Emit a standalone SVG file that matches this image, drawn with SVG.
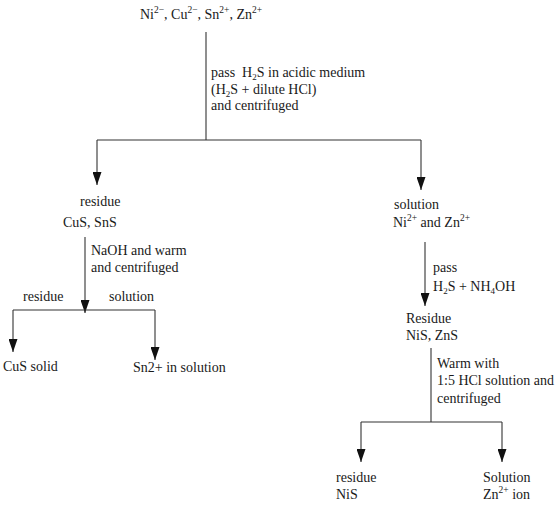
<svg xmlns="http://www.w3.org/2000/svg" width="560" height="509" viewBox="0 0 560 509">
<defs>
<marker id="arr" markerUnits="userSpaceOnUse" markerWidth="14" markerHeight="9" refX="13" refY="4.5" orient="auto">
<path d="M0,0 L13,4.5 L0,9 z" fill="#111"/>
</marker>
<style>
text{font-family:"Liberation Serif","Times New Roman",serif;font-size:14px;fill:#1a1a1a}
.sup{font-size:9.5px}
.sub{font-size:9px}
.ln{stroke:#333;stroke-width:1.1;fill:none}
.ar{stroke:#333;stroke-width:1.1;fill:none;marker-end:url(#arr)}
</style>
</defs>
<rect width="560" height="509" fill="#fff"/>
<g id="connectors">
<line class="ln" x1="206" y1="32" x2="206" y2="140"/>
<line class="ln" x1="97" y1="140" x2="421" y2="140"/>
<line class="ar" x1="97" y1="140" x2="97" y2="185"/>
<line class="ar" x1="421" y1="140" x2="421" y2="190"/>
<line class="ar" x1="85" y1="237" x2="85" y2="313"/>
<line class="ln" x1="13" y1="310" x2="155" y2="310"/>
<line class="ar" x1="13" y1="310" x2="13" y2="352"/>
<line class="ar" x1="155" y1="310" x2="155" y2="360"/>
<line class="ar" x1="425" y1="242" x2="425" y2="306"/>
<line class="ln" x1="431" y1="348" x2="431" y2="422"/>
<line class="ln" x1="361" y1="422" x2="502" y2="422"/>
<line class="ar" x1="361" y1="422" x2="361" y2="462"/>
<line class="ar" x1="502" y1="422" x2="502" y2="462"/>
</g>
<g id="start">
<text x="140" y="19">Ni<tspan class="sup" dy="-6">2−</tspan><tspan dy="6">, Cu</tspan><tspan class="sup" dy="-6">2−</tspan><tspan dy="6">, Sn</tspan><tspan class="sup" dy="-6">2+</tspan><tspan dy="6">, Zn</tspan><tspan class="sup" dy="-6">2+</tspan></text>
</g>
<g id="step1-label">
<text x="211" y="77">pass&#160; H<tspan class="sub" dy="3">2</tspan><tspan dy="-3">S in acidic medium</tspan></text>
<text x="211" y="94">(H<tspan class="sub" dy="3">2</tspan><tspan dy="-3">S + dilute HCl)</tspan></text>
<text x="211" y="110">and centrifuged</text>
</g>
<g id="residue1">
<text x="80" y="206">residue</text>
<text x="63" y="227">CuS, SnS</text>
</g>
<g id="step2-label">
<text x="91" y="255">NaOH and warm</text>
<text x="91" y="272">and centrifuged</text>
<text x="23" y="301">residue</text>
<text x="109" y="301">solution</text>
</g>
<g id="cus-solid">
<text x="3" y="371">CuS solid</text>
</g>
<g id="sn-solution">
<text x="133" y="372">Sn2+ in solution</text>
</g>
<g id="solution1">
<text x="394" y="209">solution</text>
<text x="393" y="227">Ni<tspan class="sup" dy="-6">2+</tspan><tspan dy="6"> and Zn</tspan><tspan class="sup" dy="-6">2+</tspan></text>
</g>
<g id="step3-label">
<text x="433" y="272">pass</text>
<text x="433" y="291">H<tspan class="sub" dy="3">2</tspan><tspan dy="-3">S + NH</tspan><tspan class="sub" dy="3">4</tspan><tspan dy="-3">OH</tspan></text>
</g>
<g id="residue2">
<text x="406" y="323">Residue</text>
<text x="406" y="340">NiS, ZnS</text>
</g>
<g id="step4-label">
<text x="437" y="368">Warm with</text>
<text x="437" y="385">1:5 HCl solution and</text>
<text x="437" y="403">centrifuged</text>
</g>
<g id="nis">
<text x="336" y="482">residue</text>
<text x="336" y="499">NiS</text>
</g>
<g id="zn-solution">
<text x="483" y="482">Solution</text>
<text x="483" y="499">Zn<tspan class="sup" dy="-6">2+</tspan><tspan dy="6"> ion</tspan></text>
</g>
</svg>
